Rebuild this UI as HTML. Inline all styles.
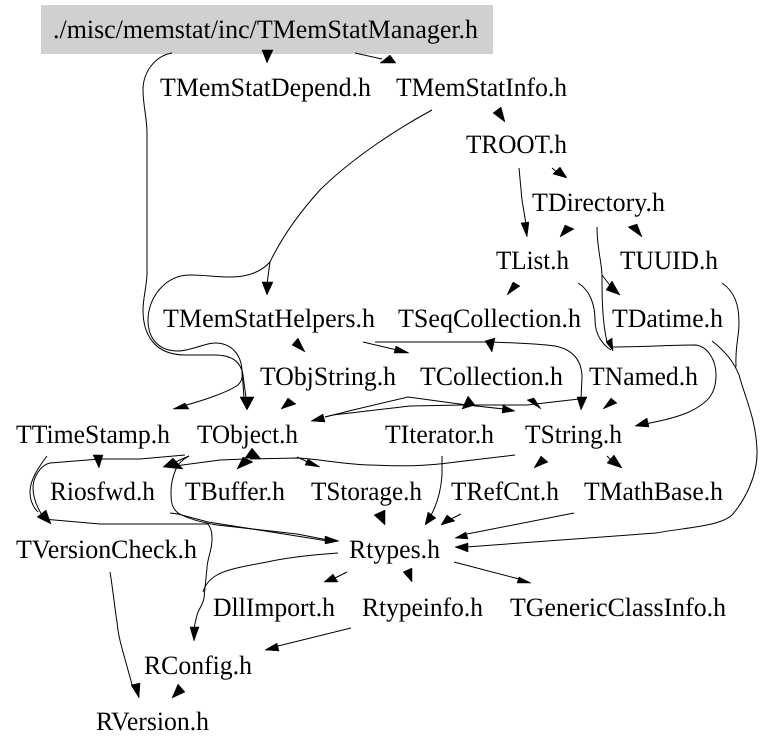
<!DOCTYPE html>
<html><head><meta charset="utf-8"><style>
html,body{margin:0;padding:0;background:#fff;width:779px;height:750px;overflow:hidden}
svg{display:block}
text{font-family:"Liberation Serif",serif;font-size:26.5px;fill:#000;text-rendering:geometricPrecision}
path{fill:none;stroke:#000;stroke-width:1}
polygon{fill:#000;stroke:#000;stroke-width:.5}
</style></head><body>
<svg width="779" height="750" viewBox="0 0 779 750" xmlns="http://www.w3.org/2000/svg">
<rect x="41" y="5" width="452" height="49" fill="#d0d0d0"/>
<text x="53" y="38" textLength="425" lengthAdjust="spacingAndGlyphs">./misc/memstat/inc/TMemStatManager.h</text>
<text x="160" y="96" textLength="211" lengthAdjust="spacingAndGlyphs">TMemStatDepend.h</text>
<text x="396" y="96" textLength="171" lengthAdjust="spacingAndGlyphs">TMemStatInfo.h</text>
<text x="466" y="153" textLength="101" lengthAdjust="spacingAndGlyphs">TROOT.h</text>
<text x="532" y="211" textLength="133" lengthAdjust="spacingAndGlyphs">TDirectory.h</text>
<text x="496" y="269" textLength="73" lengthAdjust="spacingAndGlyphs">TList.h</text>
<text x="620" y="269" textLength="98" lengthAdjust="spacingAndGlyphs">TUUID.h</text>
<text x="163" y="327" textLength="212" lengthAdjust="spacingAndGlyphs">TMemStatHelpers.h</text>
<text x="398" y="327" textLength="183" lengthAdjust="spacingAndGlyphs">TSeqCollection.h</text>
<text x="612" y="327" textLength="111" lengthAdjust="spacingAndGlyphs">TDatime.h</text>
<text x="260" y="385" textLength="136" lengthAdjust="spacingAndGlyphs">TObjString.h</text>
<text x="420" y="385" textLength="143" lengthAdjust="spacingAndGlyphs">TCollection.h</text>
<text x="589" y="385" textLength="109" lengthAdjust="spacingAndGlyphs">TNamed.h</text>
<text x="16" y="443" textLength="154" lengthAdjust="spacingAndGlyphs">TTimeStamp.h</text>
<text x="197" y="443" textLength="101" lengthAdjust="spacingAndGlyphs">TObject.h</text>
<text x="385" y="443" textLength="109" lengthAdjust="spacingAndGlyphs">TIterator.h</text>
<text x="525" y="443" textLength="97" lengthAdjust="spacingAndGlyphs">TString.h</text>
<text x="50" y="500" textLength="105" lengthAdjust="spacingAndGlyphs">Riosfwd.h</text>
<text x="185" y="500" textLength="100" lengthAdjust="spacingAndGlyphs">TBuffer.h</text>
<text x="311" y="500" textLength="111" lengthAdjust="spacingAndGlyphs">TStorage.h</text>
<text x="451" y="500" textLength="108" lengthAdjust="spacingAndGlyphs">TRefCnt.h</text>
<text x="584" y="500" textLength="139" lengthAdjust="spacingAndGlyphs">TMathBase.h</text>
<text x="16" y="558" textLength="181" lengthAdjust="spacingAndGlyphs">TVersionCheck.h</text>
<text x="349" y="558" textLength="91" lengthAdjust="spacingAndGlyphs">Rtypes.h</text>
<text x="213" y="616" textLength="122" lengthAdjust="spacingAndGlyphs">DllImport.h</text>
<text x="362" y="616" textLength="121" lengthAdjust="spacingAndGlyphs">Rtypeinfo.h</text>
<text x="510" y="616" textLength="216" lengthAdjust="spacingAndGlyphs">TGenericClassInfo.h</text>
<text x="144" y="674" textLength="108" lengthAdjust="spacingAndGlyphs">RConfig.h</text>
<text x="96" y="730" textLength="113" lengthAdjust="spacingAndGlyphs">RVersion.h</text>

<!-- curves -->
<path d="M172 53C155 56 143 72 143 90C143 105 147 118 147 133L147 273C147 285 143 298 143 310C143 335 155 355 185 355L215 355C232 355 241 362 243 375L246 398"/>
<path d="M432 110C395 130 350 160 320 190C300 212 283 235 270 262"/>
<path d="M270 262L267 284"/>
<path d="M270 262C260 273 245 277 230 277C215 277 205 275 190 275C165 275 148 298 148 320C148 340 160 351 178 351C190 351 205 343 215 343C232 343 241 355 242 370C243 380 241 381 238 385C228 392 205 400 183 406"/>
<path d="M242 370L244 398"/>
<path d="M355 53L382 59"/>
<path d="M363 342L397 350"/>
<path d="M375 342L490 342C520 343 540 344 555 346C575 350 582 362 582 378L581 398"/>
<path d="M519 168L522 200L526 224"/>
<path d="M552 168L560 175"/>
<path d="M578 283C590 290 595 305 595 320C595 335 603 345 611 350"/>
<path d="M597 227C597 250 602 262 602 277C602 295 602 320 607 342"/>
<path d="M602 275L612 288"/>
<path d="M722 283C735 292 739 305 739 323C739 338 735 345 736 367"/>
<path d="M712 341C725 351 734 362 739 375C746 400 756 420 757 450C758 475 745 500 732 515C720 526 690 527 656 533L466 547"/>
<path d="M612 347C640 347 670 345 696 345C708 347 716 360 716 375C716 392 710 402 689 412C675 418 660 421 645 424"/>
<path d="M325 417L333 415L410 406L463 405L527 405L553 402L579 399"/>
<path d="M325 417L353 410L408 397L467 405L513 410"/>
<path d="M515 455L456 462C420 467 400 466 370 465C340 464 320 459 297 458L250 459"/>
<path d="M297 457L310 463"/>
<path d="M245 459L220 460L175 466"/>
<path d="M189 456C183 459 178 464 176 469C172 478 171 485 171 492C171 503 172 508 178 513C190 520 205 523 217 525L297 534L328 540"/>
<path d="M189 456L173 463"/>
<path d="M47 456C38 468 30 480 30 492C30 500 33 507 38 512"/>
<path d="M185 455L140 459L100 459L50 463C40 465 33 478 33 488C33 497 37 507 42 515"/>
<path d="M43 519L100 524L208 524C212 530 212 534 212 540C212 550 207 560 207 568L204 598C203 605 198 610 197 615L194 628"/>
<path d="M170 513L178 514L208 522L328 541"/>
<path d="M338 553C310 555 285 558 267 562C240 567 225 570 217 575C210 579 205 585 203 592"/>
<path d="M442 456L442 475C441 490 437 505 430 517"/>
<path d="M461 514L451 519"/>
<path d="M574 513L467 534"/>
<path d="M607 456L612 461"/>
<path d="M347 572L335 578"/>
<path d="M454 562L519 579"/>
<path d="M351 628L278 646"/>
<path d="M110 572C113 590 115 610 117 622C118 635 121 645 123 652L133 688"/>

<!-- arrowheads -->
<polygon points="262,50 273,50 267,63"/>
<polygon points="396,63 390,55 380,63"/>
<polygon points="240,397 254,397 247,410"/>
<polygon points="262,282 273,282 267,295"/>
<polygon points="173,409 185,403 189,409"/>
<polygon points="292,345 298,338 305,352"/>
<polygon points="409,353 396,346 394,353"/>
<polygon points="492,352 485,341 495,338"/>
<polygon points="577,397 587,397 581,410"/>
<polygon points="507,295 513,282 520,286"/>
<polygon points="613,351 606,342 612,338"/>
<polygon points="620,295 612,281 606,290"/>
<polygon points="521,223 529,222 527,237"/>
<polygon points="567,178 553,174 560,167"/>
<polygon points="505,122 493,113 501,107"/>
<polygon points="560,237 565,225 574,229"/>
<polygon points="642,237 628,227 637,224"/>
<polygon points="455,547 468,543 468,552"/>
<polygon points="635,426 647,418 649,427"/>
<polygon points="603,409 611,398 617,403"/>
<polygon points="311,421 323,414 325,422"/>
<polygon points="515,411 503,405 502,413"/>
<polygon points="541,409 527,400 534,398"/>
<polygon points="462,409 468,396 475,405"/>
<polygon points="281,409 288,398 296,404"/>
<polygon points="252,448 245,458 261,459"/>
<polygon points="237,469 243,457 253,462"/>
<polygon points="163,467 173,458 183,469"/>
<polygon points="93,455 103,455 99,468"/>
<polygon points="51,524 37,517 46,510"/>
<polygon points="339,541 325,536 325,544"/>
<polygon points="190,627 199,627 194,641"/>
<polygon points="320,467 308,459 305,465"/>
<polygon points="385,525 374,515 385,510"/>
<polygon points="425,525 428,512 436,518"/>
<polygon points="441,525 447,515 455,521"/>
<polygon points="455,538 466,532 468,539"/>
<polygon points="534,468 541,456 548,462"/>
<polygon points="622,468 614,455 607,463"/>
<polygon points="412,582 403,572 412,568"/>
<polygon points="324,582 333,574 338,582"/>
<polygon points="531,583 519,577 517,583"/>
<polygon points="265,650 277,643 279,651"/>
<polygon points="172,698 178,684 185,692"/>
<polygon points="131,685 140,683 139,698"/>
</svg>
</body></html>
